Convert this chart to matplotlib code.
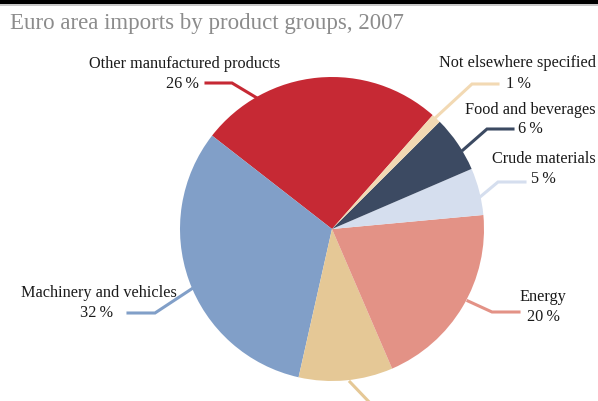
import matplotlib.pyplot as plt
from matplotlib.patches import Rectangle

groups = ["Other manufactured products", "Machinery and vehicles", "Chemicals",
          "Energy", "Crude materials", "Food and beverages", "Not elsewhere specified"]
shares = [26, 32, 10, 20, 5, 6, 1]
colors = ["#c62934", "#819fc8", "#e5c896", "#e39286", "#d5deee", "#3c4a62", "#f2d9b3"]

W, H = 598, 401
fig = plt.figure(figsize=(W / 100, H / 100), dpi=100)
ax = fig.add_axes([0, 0, 1, 1])

# pixel-style coordinates, y measured from the top
def P(x, y):
    return (x, H - y)

cx, cy = P(332, 229)
ax.pie(shares, colors=colors, startangle=48.5, counterclock=True,
       center=(cx, cy), radius=152, frame=True,
       wedgeprops=dict(linewidth=0))
ax.set_xlim(0, W)
ax.set_ylim(0, H)
ax.set_aspect("equal")
ax.axis("off")

# leader lines: start on the wedge, elbow, end near the label
leaders = {
    "Other manufactured products": [(257, 98), (232, 83), (206, 83)],
    "Machinery and vehicles": [(193, 288), (155, 313), (128, 313)],
    "Chemicals": [(350, 382), (372, 405)],
    "Energy": [(468, 301), (492, 312), (519, 312)],
    "Crude materials": [(480, 197), (498, 182), (525, 182)],
    "Food and beverages": [(463, 150), (487, 129), (513, 129)],
    "Not elsewhere specified": [(433, 120), (472, 84), (498, 84)],
}
for g, c in zip(groups, colors):
    pts = [P(x, y) for x, y in leaders[g]]
    ax.plot([p[0] for p in pts], [p[1] for p in pts], color=c, lw=2.2,
            solid_joinstyle="miter", zorder=3)

font = dict(family="Liberation Serif", size=11.7, color="#1a1a1a")
# name line and value line positions for each label
label_pos = {
    "Other manufactured products": ((185, 64, "center"), (199, 84, "right")),
    "Machinery and vehicles": ((99, 293, "center"), (113, 313, "right")),
    "Energy": ((543, 297, "center"), (543, 317, "center")),
    "Crude materials": ((596, 159, "right"), (543, 179, "center")),
    "Food and beverages": ((596, 110, "right"), (530, 129, "center")),
    "Not elsewhere specified": ((596, 63, "right"), (518, 84, "center")),
}
for g, s in zip(groups, shares):
    if g not in label_pos:
        continue
    (nx, ny, nha), (vx, vy, vha) = label_pos[g]
    ax.text(*P(nx, ny), g, ha=nha, va="center", **font)
    ax.text(*P(vx, vy), f"{s}\u2009%", ha=vha, va="center", **font)

# dark band across the top and the title
ax.add_patch(Rectangle(P(0, 4), W, 4, color="black", lw=0, zorder=5))
ax.add_patch(Rectangle(P(0, 5.5), W, 1.5, color="#c8c8c8", lw=0, zorder=5))
ax.text(*P(10, 24), "Euro area imports by product groups, 2007", ha="left",
        va="center", family="Liberation Serif", size=16.5, color="#8c8c8c")

fig.savefig("out.png", dpi=100)
